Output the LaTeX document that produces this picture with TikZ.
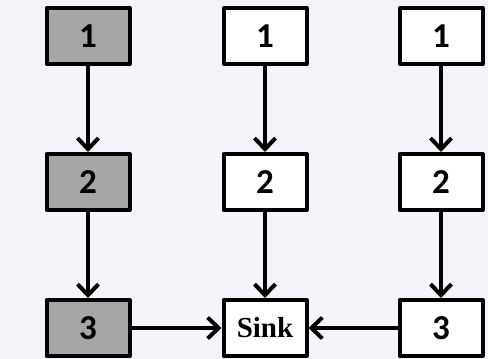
\documentclass[tikz,border=0pt]{standalone}
\usepackage{fontspec}
\setmainfont{Carlito}
\newfontfamily\sinkfont{Liberation Serif}
\usetikzlibrary{arrows.meta}
\usetikzlibrary{positioning}
\definecolor{bgcol}{RGB}{244,244,250}
\definecolor{visited}{RGB}{166,166,166}

\begin{document}
\begin{tikzpicture}[x=1pt, y=1pt,
    blk/.style={draw, line width=4pt, line join=round, minimum width=83pt, minimum height=56pt,
        inner sep=0pt, font=\fontsize{35}{40}\selectfont\bfseries},
    done/.style={blk, fill=visited},
    open/.style={blk, fill=white},
    link/.style={line width=4pt, -{Straight Barb[length=11pt, width=21pt]}}]
    \fill[bgcol] (0,0) rectangle (488,-359);
    % first path, already walked
    \node[done] (a1) at (88,-36) {1};
    \node[done] (a2) at (88,-182) {2};
    \node[done] (a3) at (88,-328) {3};
    % middle path
    \node[open] (b1) at (265,-36) {1};
    \node[open] (b2) at (265,-182) {2};
    \node[open] (sink) at (265,-328) {\sinkfont\fontsize{29}{34}\selectfont\bfseries Sink};
    % last path
    \node[open] (c1) at (441,-36) {1};
    \node[open] (c2) at (441,-182) {2};
    \node[open] (c3) at (441,-328) {3};
    \draw[link] (a1) -- (a2);
    \draw[link] (a2) -- (a3);
    \draw[link] (a3) -- (sink);
    \draw[link] (b1) -- (b2);
    \draw[link] (b2) -- (sink);
    \draw[link] (c1) -- (c2);
    \draw[link] (c2) -- (c3);
    \draw[link] (c3) -- (sink);
\end{tikzpicture}
\end{document}
